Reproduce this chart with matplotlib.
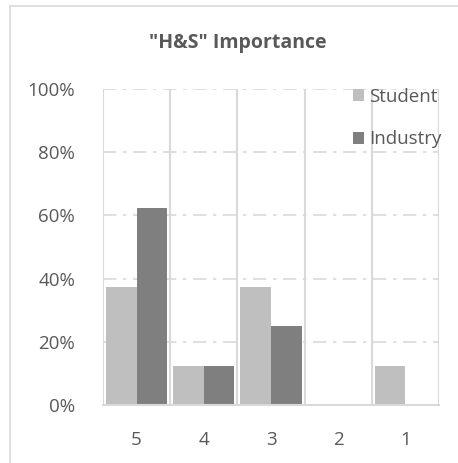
import matplotlib
matplotlib.use("Agg")
import matplotlib.pyplot as plt
import numpy as np
from matplotlib.lines import Line2D

categories = ["5", "4", "3", "2", "1"]
student = [37.5, 12.5, 37.5, 0, 12.5]
industry = [62.5, 12.5, 25, 0, 0]
yticks = [0, 20, 40, 60, 80, 100]
ytick_labels = ["0%", "20%", "40%", "60%", "80%", "100%"]

plt.rcParams['font.family'] = ['Open Sans', 'DejaVu Sans']
txt = '#595959'
grid = '#d9d9d9'

fig = plt.figure(figsize=(4.58, 4.63), dpi=100)
ax = fig.add_axes([103/458, 1-405/463, (439-103)/458, (405-89)/463])

x = np.arange(len(categories))
w = 0.455
ax.bar(x - w/2, student, width=w, color='#bfbfbf', label='Student', zorder=3)
ax.bar(x + w/2, industry, width=w, color='#7f7f7f', label='Industry', zorder=3)

ax.set_xlim(-0.5, len(categories) - 0.5)
ax.set_ylim(0, 100)
ax.set_yticks(yticks)
ax.set_yticklabels(ytick_labels)
ax.set_xticks(x)
ax.set_xticklabels(categories)
ax.tick_params(axis='both', length=0, labelsize=13.5, colors=txt)
ax.tick_params(axis='x', pad=19)
ax.tick_params(axis='y', pad=20)

for yv in yticks[1:]:
    ax.axhline(yv, color=grid, lw=1.2, linestyle=(0, (8, 4, 2, 4)), zorder=1)
for b in np.arange(-0.5, len(categories), 1.0):
    ax.axvline(b, color=grid, lw=1.5, zorder=1)

for s in ['top', 'right', 'left']:
    ax.spines[s].set_visible(False)
ax.spines['bottom'].set_color(grid)
ax.spines['bottom'].set_linewidth(1.5)
ax.spines['bottom'].set_zorder(4)

fig.text(238/458, 1-43/463, '"H&S" Importance', ha='center', va='center',
         fontsize=14, fontweight='bold', color=txt)

leg = ax.legend(loc='upper left', bbox_to_anchor=(353/458, 1-88/463),
                bbox_transform=fig.transFigure, frameon=False, fontsize=13.5,
                handlelength=0.6, handleheight=0.6, handletextpad=0.25,
                labelspacing=1.3, borderpad=0, borderaxespad=0)
for t in leg.get_texts():
    t.set_color(txt)

# outer chart frame lines
fig.add_artist(Line2D([10/458, 10/458], [0, 1-6/463], transform=fig.transFigure, color=grid, lw=1.2))
fig.add_artist(Line2D([10/458, 1], [1-6/463, 1-6/463], transform=fig.transFigure, color=grid, lw=1.2))

fig.savefig('out.png', dpi=100)
